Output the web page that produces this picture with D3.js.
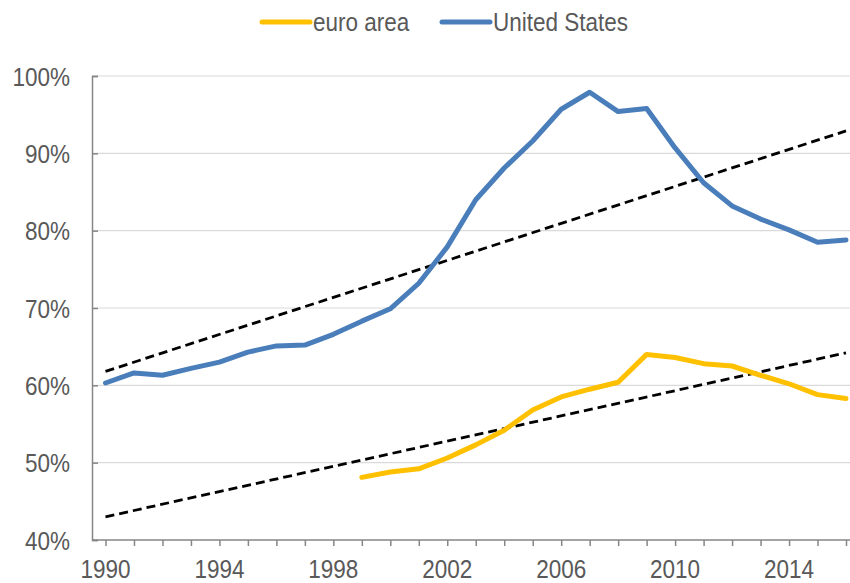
<!DOCTYPE html>
<html>
<head>
<meta charset="utf-8">
<script src="https://cdn.jsdelivr.net/npm/d3@7"></script>
<style>
  body { margin: 0; background: #fff; }
  text { font-family: "Liberation Sans", Arial, sans-serif; fill: #595959; }
</style>
</head>
<body>
<div id="graph1"></div>
<script>
// data
const years = d3.range(1990, 2017)
const usValues = [60.3, 61.6, 61.3, 62.2, 63.0, 64.3, 65.1, 65.2, 66.6, 68.3,
                  69.9, 73.2, 77.9, 84.0, 88.1, 91.6, 95.7, 97.9, 95.4, 95.8,
                  90.7, 86.2, 83.2, 81.5, 80.1, 78.5, 78.8]
const euroYears = d3.range(1999, 2017)
const euroValues = [48.1, 48.8, 49.2, 50.6, 52.3, 54.2, 56.8, 58.5, 59.5, 60.4,
                    64.0, 63.6, 62.8, 62.5, 61.3, 60.2, 58.8, 58.3]
// trend lines (start, end)
const trendYears = [1990, 2016]
const usTrend = [61.8, 92.9]
const euroTrend = [43.0, 64.2]
const yTicks = [40, 50, 60, 70, 80, 90, 100]
const xLabels = [1990, 1994, 1998, 2002, 2006, 2010, 2014]

const width = 850, height = 583
const margin = {top: 76, right: 0, bottom: 43, left: 92}
const fontSize = 25, squeeze = 0.9   // the original font is a bit narrow

let svg = d3.select("#graph1")
    .append("svg")
    .attr("width", width)
    .attr("height", height)

let x = d3.scaleLinear().domain([1990, 2016]).range([105.5, 846])
let y = d3.scaleLinear().domain([40, 100]).range([540, 76])

// gridlines
svg.append("g")
    .selectAll("line")
    .data(yTicks.slice(1))
    .enter()
    .append("line")
    .attr("x1", margin.left)
    .attr("x2", width)
    .attr("y1", d => y(d))
    .attr("y2", d => y(d))
    .attr("stroke", "#d9d9d9")
    .attr("stroke-width", 1.2)

// y axis
let yAxis = svg.append("g")
    .attr("transform", `translate(${margin.left}, 0)`)
    .call(d3.axisLeft(y).tickValues(yTicks).tickSize(-6).tickFormat(d => d + "%"))
yAxis.select(".domain").attr("stroke", "#868686").attr("stroke-width", 1.5)
yAxis.selectAll(".tick line").attr("stroke", "#868686").attr("stroke-width", 1.5)
yAxis.selectAll(".tick text")
    .attr("font-size", fontSize).attr("fill", "#595959").attr("font-family", null)
    .attr("x", -22 / squeeze).attr("dy", "0.36em")
    .attr("transform", `scale(${squeeze},1)`)

// x axis
let xAxis = svg.append("g")
    .attr("transform", `translate(0, 540)`)
    .call(d3.axisBottom(x).tickValues(years).tickSize(6).tickSizeOuter(0).tickFormat(""))
xAxis.select(".domain").attr("d", `M${margin.left},0H${width}`)
    .attr("stroke", "#868686").attr("stroke-width", 1.5)
xAxis.selectAll(".tick line").attr("stroke", "#868686").attr("stroke-width", 1.5)

svg.append("g")
    .selectAll("text")
    .data(xLabels)
    .enter()
    .append("text")
    .attr("transform", d => `translate(${x(d)}, 578) scale(${squeeze},1)`)
    .attr("text-anchor", "middle")
    .attr("font-size", fontSize)
    .text(d => d)

// trend lines
let line = d3.line().x(d => x(d[0])).y(d => y(d[1]))

;[usTrend, euroTrend].forEach(function(t) {
    svg.append("path")
        .attr("d", line(trendYears.map((yr, i) => [yr, t[i]])))
        .attr("fill", "none")
        .attr("stroke", "#000")
        .attr("stroke-width", 2.8)
        .attr("stroke-dasharray", "9,5")
})

// series
svg.append("path")
    .attr("d", line(euroYears.map((yr, i) => [yr, euroValues[i]])))
    .attr("fill", "none")
    .attr("stroke", "#FFC000")
    .attr("stroke-width", 5)
    .attr("stroke-linejoin", "round")
    .attr("stroke-linecap", "round")

svg.append("path")
    .attr("d", line(years.map((yr, i) => [yr, usValues[i]])))
    .attr("fill", "none")
    .attr("stroke", "#4A7EBB")
    .attr("stroke-width", 5)
    .attr("stroke-linejoin", "round")
    .attr("stroke-linecap", "round")

// legend
const legend = [
    {name: "euro area", color: "#FFC000", x: 262},
    {name: "United States", color: "#4A7EBB", x: 442}
]
let lg = svg.append("g")
legend.forEach(function(l) {
    lg.append("line")
        .attr("x1", l.x).attr("x2", l.x + 48)
        .attr("y1", 22).attr("y2", 22)
        .attr("stroke", l.color)
        .attr("stroke-width", 5)
        .attr("stroke-linecap", "round")
    lg.append("text")
        .attr("transform", `translate(${l.x + 51}, 31) scale(${squeeze},1)`)
        .attr("font-size", fontSize)
        .text(l.name)
})
</script>
</body>
</html>
